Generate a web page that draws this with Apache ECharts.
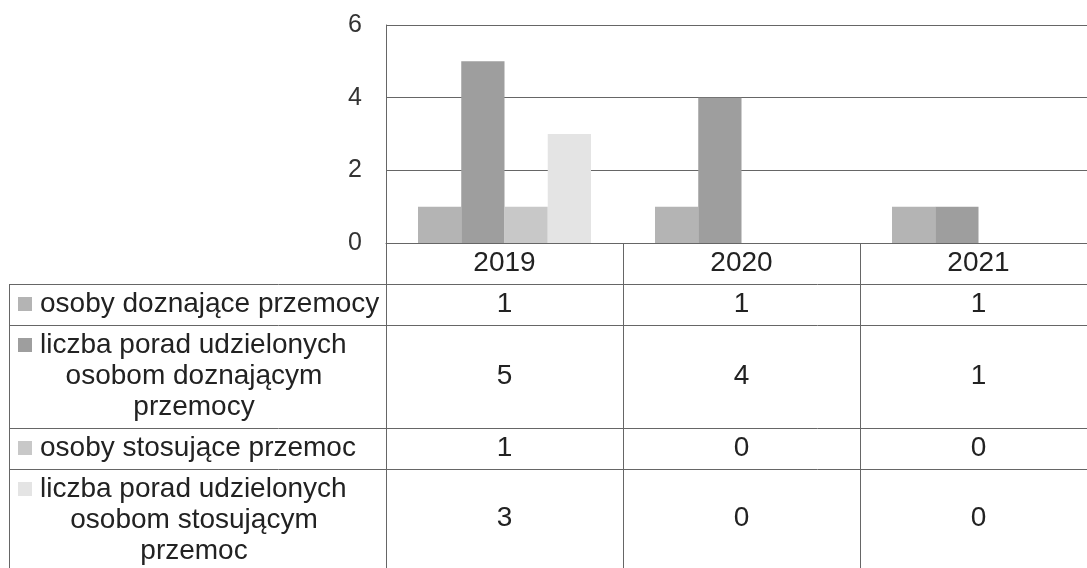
<!DOCTYPE html>
<html>
<head>
<meta charset="utf-8">
<script src="https://cdn.jsdelivr.net/npm/echarts@6/dist/echarts.min.js"></script>
<style>
  html, body { margin: 0; padding: 0; background: #fff; }
  #chart { width: 1087px; height: 568px; }
</style>
</head>
<body>
<div id="chart"></div>
<script>
// dane
const years = ['2019', '2020', '2021'];
const doznajace = [1, 1, 1];
const poradyDoznajace = [5, 4, 1];
const stosujace = [1, 0, 0];
const poradyStosujace = [3, 0, 0];
const yTicks = [0, 2, 4, 6];

// etykiety wierszy tabeli (zawinięte jak w oryginale)
const rowLabels = [
  ['osoby doznające przemocy'],
  ['liczba porad udzielonych', 'osobom doznającym', 'przemocy'],
  ['osoby stosujące przemoc'],
  ['liczba porad udzielonych', 'osobom stosującym', 'przemoc']
];
const rowValues = [doznajace, poradyDoznajace, stosujace, poradyStosujace];
const colors = ['#b4b4b4', '#9e9e9e', '#c8c8c8', '#e4e4e4'];

const font = '"Liberation Sans", Arial, sans-serif';
const lineColor = '#666';

const chart = echarts.init(document.getElementById('chart'));

chart.setOption({
  animation: false,
  grid: { left: 386, top: 25, width: 711, height: 218, containLabel: false, outerBoundsMode: 'none' },
  xAxis: {
    type: 'category',
    data: years,
    axisLine: { show: true, lineStyle: { color: lineColor } },
    axisTick: { show: false },
    axisLabel: { show: false }
  },
  yAxis: {
    type: 'value',
    min: yTicks[0],
    max: yTicks[yTicks.length - 1],
    interval: 2,
    axisLine: { show: true, lineStyle: { color: lineColor } },
    axisTick: { show: false },
    axisLabel: { color: '#333', fontSize: 25, fontFamily: font, margin: 24 },
    splitLine: { lineStyle: { color: lineColor } }
  },
  series: rowValues.map((vals, i) => ({
    name: rowLabels[i].join(' '),
    type: 'bar',
    data: vals,
    barGap: '0%',
    barCategoryGap: '27%',
    itemStyle: { color: colors[i] }
  }))
});

// tabela danych pod wykresem
const rowTops = [243, 284, 325, 428, 469, 568];
const colX = years.map(y => chart.convertToPixel({ xAxisIndex: 0 }, y));
const half = (colX[1] - colX[0]) / 2;
const leftEdge = 9;
const graphic = [];

function hline(y, x1, x2) {
  graphic.push({ type: 'line', shape: { x1: x1, y1: y + 0.5, x2: x2, y2: y + 0.5 },
    style: { stroke: lineColor, lineWidth: 1 }, silent: true });
}
function vline(x, y1, y2) {
  graphic.push({ type: 'line', shape: { x1: x + 0.5, y1: y1, x2: x + 0.5, y2: y2 },
    style: { stroke: lineColor, lineWidth: 1 }, silent: true });
}
function text(str, x, y, align) {
  graphic.push({ type: 'text', x: x, y: y, silent: true,
    style: { text: str, fontSize: 28, fontFamily: font, fill: '#222',
      align: align || 'center', verticalAlign: 'middle' } });
}

// linie
for (let r = 1; r < 5; r++) hline(rowTops[r], leftEdge, 1087);
vline(386, 243, 568);
vline(leftEdge, rowTops[1], 568);
colX.forEach((cx, i) => { if (i > 0) vline(Math.round(cx - half), 243, 568); });

// nagłówek z latami
colX.forEach((cx, i) => text(years[i], cx, (rowTops[0] + rowTops[1]) / 2));

// wiersze
rowLabels.forEach((lines, r) => {
  const top = rowTops[r + 1];
  const mid = (top + rowTops[r + 2]) / 2;
  lines.forEach((ln, i) => {
    const y = top + 20 + 31 * i;
    if (i === 0) {
      graphic.push({ type: 'rect', silent: true,
        shape: { x: 18, y: y - 7, width: 14, height: 14 },
        style: { fill: colors[r] } });
      text(ln, 40, y, 'left');
    } else {
      text(ln, 194, y);
    }
  });
  rowValues[r].forEach((v, c) => text(String(v), colX[c], mid));
});

chart.setOption({ graphic: graphic });
</script>
</body>
</html>
